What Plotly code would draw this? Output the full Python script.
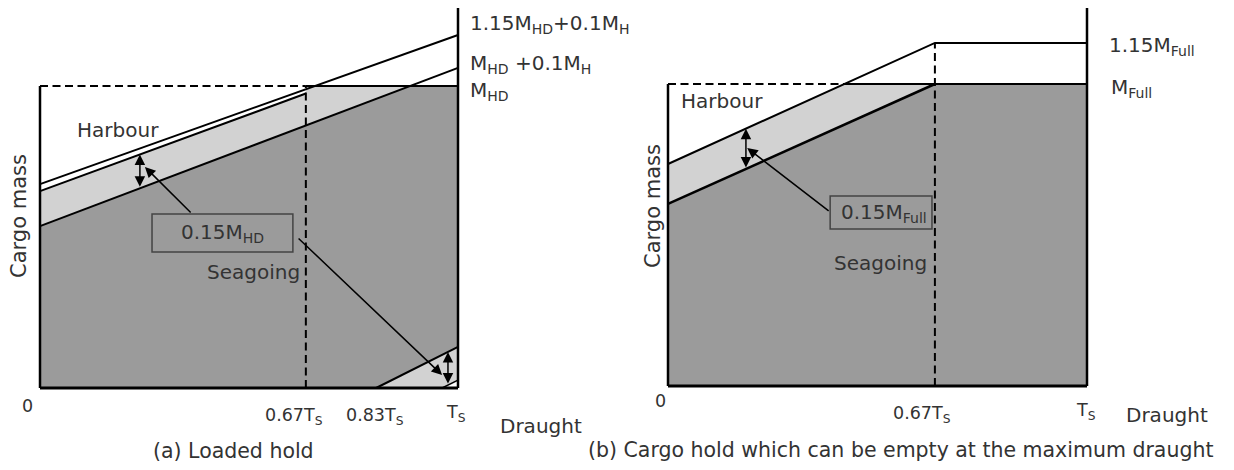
import plotly.graph_objects as go
import numpy as np

# ---------------- data (draught as fraction of T_S, mass relative to M) ----------------
# Panel (a): loaded hold, mass relative to M_HD
a_ends = [0.0, 1.0]
a_harbour_upper = [0.675, 1.169]          # 1.15 M_HD + 0.1 M_H
a_harbour_lower_x = [0.0, 0.636]
a_harbour_lower = [0.652, 0.975]
a_seagoing = [0.536, 1.060]               # M_HD + 0.1 M_H
a_full = 1.0                              # M_HD
a_split = 0.636                           # 0.67 T_S
a_min_x = [0.804, 1.0]
a_min_y = [0.0, 0.136]
a_min2_x = [0.962, 1.0]
a_min2_y = [0.0, 0.026]
a_right_top = 1.258
a_ticks = ["0", "0.67T<sub>S</sub>", "0.83T<sub>S</sub>", "T<sub>S</sub>"]
a_right_labels = ["1.15M<sub>HD</sub>+0.1M<sub>H</sub>", "M<sub>HD</sub> +0.1M<sub>H</sub>", "M<sub>HD</sub>"]

# Panel (b): hold that can be empty, mass relative to M_Full
b_harbour_x = [0.0, 0.637, 1.0]
b_harbour_y = [0.735, 1.136, 1.136]       # 1.15 M_Full
b_seagoing_x = [0.0, 0.637]
b_seagoing_y = [0.603, 1.0]
b_full = 1.0                              # M_Full
b_split = 0.637
b_right_top = 1.255
b_ticks = ["0", "0.67T<sub>S</sub>", "T<sub>S</sub>"]
b_right_labels = ["1.15M<sub>Full</sub>", "M<sub>Full</sub>"]

DARK = "#9b9b9b"
LIGHT = "#d2d2d2"
TXT = "#333333"
FONT = "DejaVu Sans"
S_MAIN = 20
S_TICK = 17.5
DASH = "8px,4.5px"

fig = go.Figure()

def poly(xs, ys, color, xa, ya):
    fig.add_trace(go.Scatter(x=xs, y=ys, fill="toself", fillcolor=color, mode="lines",
                             line=dict(width=0), hoverinfo="skip", showlegend=False,
                             xaxis=xa, yaxis=ya))

def line(xs, ys, xa, ya, width=2, dash="solid", color="black"):
    fig.add_trace(go.Scatter(x=xs, y=ys, mode="lines", line=dict(width=width, color=color, dash=dash),
                             hoverinfo="skip", showlegend=False, xaxis=xa, yaxis=ya))

def lin(x, xs, ys):
    return float(np.interp(x, xs, ys))

# ---------------- panel (a) ----------------
sg_slope = a_seagoing[1] - a_seagoing[0]
a_cross = (a_full - a_seagoing[0]) / sg_slope
poly([0, 0, a_cross, 1, 1], [0, a_seagoing[0], a_full, a_full, 0], DARK, "x", "y")
poly([0, 0, a_harbour_lower_x[1], a_split, a_cross],
     [a_seagoing[0], a_harbour_lower[0], a_harbour_lower[1], a_full, a_full], LIGHT, "x", "y")
poly([a_min_x[0], a_min_x[1], 1], [a_min_y[0], a_min_y[1], 0], LIGHT, "x", "y")
poly([a_min2_x[0], a_min2_x[1], 1], [a_min2_y[0], a_min2_y[1], 0], "white", "x", "y")

line(a_ends, a_harbour_upper, "x", "y")
line(a_harbour_lower_x, a_harbour_lower, "x", "y")
line(a_ends, a_seagoing, "x", "y")
line(a_min_x, a_min_y, "x", "y")
line(a_min2_x, a_min2_y, "x", "y", width=1.5)
line([0, a_split], [a_full, a_full], "x", "y", dash=DASH)
line([a_split, 1], [a_full, a_full], "x", "y")
line([a_split, a_split], [0, a_full], "x", "y", dash=DASH)
line([0, 0], [0, a_full], "x", "y", width=2.5)
line([1, 1], [0, a_right_top], "x", "y", width=2.5)
line([0, 1], [0, 0], "x", "y", width=3)

# ---------------- panel (b) ----------------
hb_slope = (b_harbour_y[1] - b_harbour_y[0]) / b_harbour_x[1]
b_cross = (b_full - b_harbour_y[0]) / hb_slope
poly([0, 0, b_seagoing_x[1], 1, 1], [0, b_seagoing_y[0], b_full, b_full, 0], DARK, "x2", "y2")
poly([0, 0, b_cross, b_seagoing_x[1]], [b_seagoing_y[0], b_harbour_y[0], b_full, b_full], LIGHT, "x2", "y2")

line(b_harbour_x, b_harbour_y, "x2", "y2")
line(b_seagoing_x, b_seagoing_y, "x2", "y2", width=2.5)
line([0, b_cross], [b_full, b_full], "x2", "y2", dash=DASH)
line([b_cross, 1], [b_full, b_full], "x2", "y2")
line([b_split, b_split], [0, b_harbour_y[1]], "x2", "y2", dash=DASH)
line([0, 0], [0, b_full], "x2", "y2", width=2.5)
line([1, 1], [0, b_right_top], "x2", "y2", width=2.5)
line([0, 1], [0, 0], "x2", "y2", width=3)

ann = []
def text(x, y, s, xref, yref, size=S_MAIN, xanchor="center", angle=0):
    ann.append(dict(x=x, y=y, xref=xref, yref=yref, text=s, showarrow=False, xanchor=xanchor,
                    yanchor="middle", textangle=angle, font=dict(family=FONT, size=size, color=TXT)))

def arrow(x0, y0, x1, y1, xref, yref, both=False):
    ann.append(dict(x=x1, y=y1, ax=x0, ay=y0, xref=xref, yref=yref, axref=xref, ayref=yref,
                    text="", showarrow=True, arrowhead=2, arrowsize=1.4, arrowwidth=1.5,
                    arrowcolor="black", arrowside="end+start" if both else "end",
                    standoff=0, startstandoff=0))

# panel (a) texts
text(0.187, 0.854, "Harbour", "x", "y")
text(0.510, 0.384, "Seagoing", "x", "y")
text(-0.050, 0.570, "Cargo mass", "x", "y", size=21, angle=-90)
text(-0.029, -0.060, a_ticks[0], "x", "y", size=S_TICK)
text(0.608, -0.093, a_ticks[1], "x", "y", size=S_TICK)
text(0.801, -0.093, a_ticks[2], "x", "y", size=S_TICK)
text(0.995, -0.086, a_ticks[3], "x", "y", size=S_TICK)
text(1.199, -0.126, "Draught", "x", "y")
text(0.464, -0.209, "(a) Loaded hold", "x", "y", size=20.5)
for lab, yy in zip(a_right_labels, [1.205, 1.073, 0.983]):
    text(1.024, yy, lab, "x", "y", xanchor="left")
text(0.4366, 0.513, "0.15M<sub>HD</sub>", "x", "y")

# panel (a) arrows
xa_arr = 0.239
arrow(xa_arr, lin(xa_arr, a_ends, a_seagoing), xa_arr, lin(xa_arr, a_harbour_lower_x, a_harbour_lower), "x", "y", both=True)
xb_arr = 0.976
arrow(xb_arr, lin(xb_arr, a_min2_x, a_min2_y), xb_arr, lin(xb_arr, a_min_x, a_min_y), "x", "y", both=True)
arrow(0.364, 0.576, 0.251, 0.732, "x", "y")
arrow(0.615, 0.500, 0.962, 0.043, "x", "y")

# panel (b) texts
text(0.129, 0.944, "Harbour", "x2", "y2")
text(0.506, 0.407, "Seagoing", "x2", "y2")
text(-0.036, 0.596, "Cargo mass", "x2", "y2", size=21, angle=-90)
text(-0.019, -0.050, b_ticks[0], "x2", "y2", size=S_TICK)
text(0.606, -0.093, b_ticks[1], "x2", "y2", size=S_TICK)
text(0.998, -0.086, b_ticks[2], "x2", "y2", size=S_TICK)
text(1.191, -0.096, "Draught", "x2", "y2")
text(0.556, -0.212, "(b) Cargo hold which can be empty at the maximum draught", "x2", "y2", size=20.5)
text(1.048, 1.126, b_right_labels[0], "x2", "y2", xanchor="left")
text(1.053, 0.987, b_right_labels[1], "x2", "y2", xanchor="left")
text(0.516, 0.573, "0.15M<sub>Full</sub>", "x2", "y2")

xc_arr = 0.186
arrow(xc_arr, lin(xc_arr, b_seagoing_x, b_seagoing_y), xc_arr, lin(xc_arr, b_harbour_x, b_harbour_y), "x2", "y2", both=True)
arrow(0.387, 0.576, 0.189, 0.788, "x2", "y2")

shapes = [
    dict(type="rect", xref="x", yref="y", x0=0.268, x1=0.605, y0=0.450, y1=0.576,
         line=dict(color="#444444", width=1.5)),
    dict(type="rect", xref="x2", yref="y2", x0=0.387, x1=0.630, y0=0.520, y1=0.629,
         line=dict(color="#444444", width=1.5)),
]

# the page body adds an 8px offset; ranges are set so the drawing lands where the reference has it
ax_common = dict(visible=False, showgrid=False, zeroline=False, fixedrange=True)
fig.update_layout(
    width=1234, height=470, margin=dict(l=0, r=0, t=0, b=0),
    paper_bgcolor="white", plot_bgcolor="white", showlegend=False,
    xaxis=dict(domain=[0, 0.5], range=[-32 / 418, 585 / 418], **ax_common),
    yaxis=dict(domain=[0, 1], range=[-90 / 302, 380 / 302], **ax_common),
    xaxis2=dict(domain=[0.5, 1], range=[-43 / 419, 574 / 419], anchor="y2", **ax_common),
    yaxis2=dict(domain=[0, 1], range=[-92 / 302, 378 / 302], anchor="x2", **ax_common),
    annotations=ann, shapes=shapes,
)
fig.write_html("out.html")
